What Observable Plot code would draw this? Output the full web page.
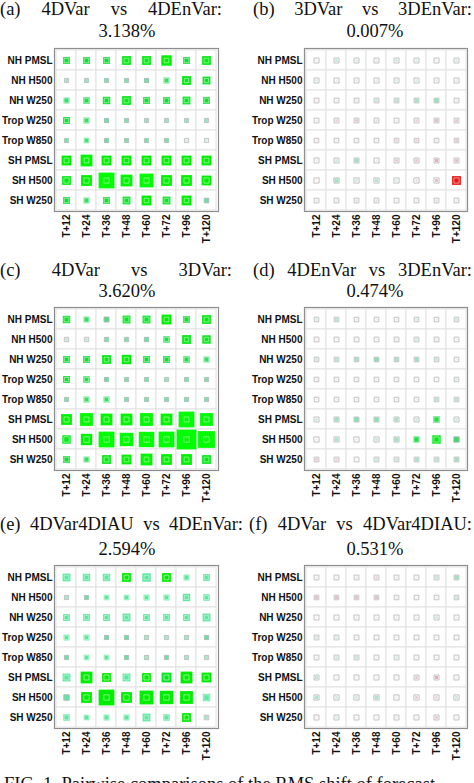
<!DOCTYPE html>
<html><head><meta charset="utf-8">
<script src="https://cdn.jsdelivr.net/npm/d3@7"></script>
<script src="https://cdn.jsdelivr.net/npm/@observablehq/plot@0.6"></script>
<style>
html,body{margin:0;padding:0;background:#fff;}
body{width:474px;height:783px;overflow:hidden;position:relative;}
.tl{position:absolute;font-family:"Liberation Serif",serif;font-size:18.5px;line-height:20px;height:20px;text-align:justify;text-align-last:justify;color:#111;}
.tc{position:absolute;font-family:"Liberation Serif",serif;font-size:18.5px;line-height:20px;text-align:center;width:120px;color:#111;}
.pn{position:absolute;}
.cap{position:absolute;left:4px;top:773px;font-family:"Liberation Serif",serif;font-size:18.5px;line-height:22px;white-space:nowrap;color:#111;}
</style>
</head><body>
<script>
const rows = ["NH PMSL","NH H500","NH W250","Trop W250","Trop W850","SH PMSL","SH H500","SH W250"];
const cols = ["T+12","T+24","T+36","T+48","T+60","T+72","T+96","T+120"];

const titles = ["(a) 4DVar vs 4DEnVar:","(b) 3DVar vs 3DEnVar:","(c) 4DVar vs 3DVar:","(d) 4DEnVar vs 3DEnVar:","(e) 4DVar4DIAU vs 4DEnVar:","(f) 4DVar vs 4DVar4DIAU:"];
const scores = ["3.138%","0.007%","3.620%","0.474%","2.594%","0.531%"];
const caption = "FIG. 1. Pairwise comparisons of the RMS shift of forecast";

// signed relative change per cell (rows x lead times)
const valuesA = [
 [2.5,2.5,2.5,3.5,3.5,4.3,2.5,3.5],
 [0.8,1.0,1.3,1.3,1.5,2.0,3.5,3.0],
 [2.0,2.3,2.8,3.5,2.5,2.5,3.0,2.5],
 [2.5,2.0,1.5,1.3,1.0,1.0,1.0,1.0],
 [1.3,1.8,1.5,1.3,1.3,1.3,0.3,0.3],
 [4.0,5.0,4.0,4.0,4.0,4.0,4.0,4.0],
 [3.5,4.5,7.0,5.0,6.0,4.5,4.5,4.0],
 [2.5,2.0,2.5,3.0,4.0,3.0,4.0,1.5]];
const valuesB = [
 [0.1,0.5,0.3,0.2,0.4,0.3,0.1,0.3],
 [0.3,0.1,0.2,0.2,0.3,0.3,0.2,0.2],
 [0.1,0.1,0.2,0.5,0.6,0.9,1.1,0.2],
 [0.1,-0.3,-0.4,-0.2,0.1,-0.3,-0.5,-0.4],
 [0.1,0.1,0.1,0.1,-0.3,-0.3,0.2,-0.4],
 [0.1,0.4,1.0,0.1,-0.4,-0.4,-0.6,-0.5],
 [0.0,1.0,0.4,0.7,0.3,-0.2,-0.5,-3.5],
 [0.2,0.2,-0.2,-0.2,0.1,0.1,-0.2,0.1]];
const valuesC = [
 [2.8,2.0,1.8,3.0,3.0,4.0,2.5,3.5],
 [0.5,0.5,1.3,1.3,1.5,2.3,3.5,3.3],
 [2.5,2.5,3.5,3.8,2.5,2.5,2.3,2.0],
 [2.5,2.3,1.5,1.3,1.3,1.0,1.3,1.3],
 [1.3,2.0,2.0,1.3,1.3,1.3,1.3,1.3],
 [4.5,5.5,5.0,5.0,5.5,5.0,7.0,5.5],
 [3.3,4.8,7.0,5.8,6.8,7.0,9.0,7.5],
 [2.5,2.0,3.5,4.0,5.0,4.5,4.5,3.5]];
const valuesD = [
 [0.3,0.6,0.1,0.1,0.1,0.3,0.1,0.4],
 [0.1,0.0,0.1,0.1,0.2,0.4,0.2,0.1],
 [0.4,0.6,0.9,1.2,0.9,1.0,0.5,0.1],
 [0.1,0.1,0.1,0.1,0.1,0.0,0.0,0.3],
 [0.0,0.1,0.1,0.1,0.1,0.1,0.6,0.6],
 [0.4,1.0,1.3,1.2,0.9,0.4,2.3,0.4],
 [0.0,0.8,0.1,0.5,1.0,2.2,3.3,2.0],
 [-0.4,-0.3,0.0,0.5,0.5,0.8,0.6,1.0]];
const valuesE = [
 [3.0,2.8,2.8,3.5,3.3,3.5,2.0,2.5],
 [1.0,1.3,1.8,1.8,2.0,2.0,2.8,2.3],
 [2.5,2.5,2.5,3.0,2.5,2.5,2.5,3.0],
 [2.0,2.0,1.5,1.5,1.3,1.0,1.3,1.5],
 [1.3,1.8,1.8,1.5,1.3,1.3,1.0,1.0],
 [3.0,5.0,3.5,3.0,3.5,4.0,5.0,4.0],
 [2.0,4.5,7.0,4.5,6.0,5.8,5.5,2.8],
 [2.3,1.8,2.0,2.0,3.0,2.3,3.5,1.0]];
const valuesF = [
 [0.1,0.1,0.2,-0.3,-0.1,0.1,0.5,1.0],
 [-0.5,-0.5,-0.5,-0.5,-0.1,0.0,0.0,0.5],
 [0.0,0.0,0.1,0.1,0.1,0.1,0.4,0.1],
 [0.4,0.3,0.1,0.1,0.0,0.1,0.0,0.1],
 [0.1,0.4,0.5,0.1,0.3,0.1,0.0,0.1],
 [0.6,0.0,0.1,0.0,0.1,-0.4,-0.6,0.1],
 [0.8,0.4,0.4,0.8,0.1,-0.4,-0.3,0.5],
 [0.1,0.3,0.0,0.0,0.2,0.1,-0.4,0.1]];
// colour tone for panel (e), which differs from its size (0.8 pale, 1.5 mint, 3 green, 4 bright)
const tonesE = [
 [1.5,1.5,1.5,4,1.5,4,1.5,1.5],
 [0.8,1.5,1.5,1.5,1.5,1.5,1.5,1.5],
 [1.5,1.5,1.5,1.5,1.5,1.5,1.5,1.5],
 [1.5,1.5,1.5,1.5,0.8,0.8,0.8,1.5],
 [1.5,1.5,1.5,1.5,0.8,1.5,0.8,0.8],
 [1.5,4,4,1.5,4,3,4,4],
 [1.5,4,4,4,4,4,4,1.5],
 [1.5,1.5,1.5,1.5,1.5,1.5,4,0.8]];
// uncertainty (inner outlined square) per row
const uncA = [1.4,1.2,1.4,1.2,1.2,1.5,1.7,1.4];
const uncB = [1.6,1.6,1.5,1.5,1.4,1.6,1.7,1.5];
const uncC = [1.5,1.3,1.4,1.2,1.2,1.6,1.8,1.5];
const uncD = [1.4,1.5,1.4,1.4,1.4,1.6,1.7,1.5];
const uncE = [1.4,1.2,1.3,1.2,1.2,1.6,1.8,1.4];
const uncF = [1.5,1.4,1.6,1.5,1.5,1.6,1.7,1.6];

const panels = [
 {values: valuesA, tones: null, unc: uncA},
 {values: valuesB, tones: null, unc: uncB},
 {values: valuesC, tones: null, unc: uncC},
 {values: valuesD, tones: null, unc: uncD},
 {values: valuesE, tones: tonesE, unc: uncE},
 {values: valuesF, tones: null, unc: uncF}];

// layout
const gridTops = [48, 307, 565];
const line1Base = [15, 276, 530];
const line2Base = [37.5, 297, 555];
const colLayout = [
 {left:0, width:237, ml:54, mr:19, cx:127},
 {left:237, width:237, ml:67, mr:7, cx:375}];
const titleBox = [
 {l:0, w:222}, {l:253, w:219},
 {l:0, w:232}, {l:253, w:219},
 {l:0, w:243}, {l:249, w:223}];

function makeCells(p) {
  const cells = [];
  rows.forEach((r, i) => cols.forEach((c, j) => {
    const v = p.values[i][j];
    cells.push({row: r, col: c, v, a: Math.abs(v),
      tone: p.tones ? p.tones[i][j] * (v < 0 ? -1 : 1) : v, u: p.unc[i]});
  }));
  return cells;
}

panels.forEach((p, k) => {
  const ci = k % 2, ri = Math.floor(k / 2);
  const L = colLayout[ci];
  const cells = makeCells(p);
  const chart = Plot.plot({
    width: L.width, height: 2 + 163 + 45,
    marginLeft: L.ml, marginRight: L.mr, marginTop: 2, marginBottom: 45,
    style: {fontFamily: "'Liberation Sans', sans-serif", fontSize: "10px", fontWeight: "bold", color: "#111", background: "transparent"},
    x: {domain: cols, padding: 0, tickRotate: -90, tickSize: 0, tickPadding: 3, label: null},
    y: {domain: rows, padding: 0, tickSize: 0, tickPadding: 2, label: null},
    r: {type: "linear", domain: [0, 10], range: [1.016, 12.3]},
    color: {type: "linear", interpolate: "rgb",
      domain: [-4, -2, -1, -0.6, -0.3, 0, 0.3, 0.6, 1, 1.5, 2, 2.5, 3, 4],
      range: ["#ee0000", "#f05060", "#ee90a4", "#eea8b8", "#f0ccd6", "#eeeeee", "#d0f0e0", "#b0eed0", "#90eabe", "#5ee6a4", "#34de68", "#14dc34", "#06e622", "#00ee00"]},
    marks: [
      Plot.cell(cells, {x: "col", y: "row", fill: "white", stroke: "#e2e2e2", strokeWidth: 1}),
      Plot.dot(cells, {x: "col", y: "row", r: "a", fill: "tone", symbol: "square", sort: null}),
      Plot.dot(cells, {x: "col", y: "row", r: "u", fill: "none", symbol: "square", strokeWidth: 1,
        stroke: d => d.a > d.u + 0.3 ? "rgba(225,255,225,0.55)" : "rgba(185,185,185,0.85)"}),
      Plot.frame({stroke: "#8e8e8e", strokeWidth: 1.2})
    ]
  });
  const wrap = document.createElement("div");
  wrap.className = "pn";
  wrap.style.left = L.left + "px";
  wrap.style.top = (gridTops[ri] - 2) + "px";
  wrap.appendChild(chart);
  document.body.appendChild(wrap);

  const tb = titleBox[k];
  const t1 = document.createElement("div");
  t1.className = "tl";
  t1.style.left = tb.l + "px";
  t1.style.width = tb.w + "px";
  t1.style.top = (line1Base[ri] - 16.2) + "px";
  t1.textContent = titles[k];
  document.body.appendChild(t1);
  const t2 = document.createElement("div");
  t2.className = "tc";
  t2.style.left = (L.cx - 60) + "px";
  t2.style.top = (line2Base[ri] - 16.2) + "px";
  t2.textContent = scores[k];
  document.body.appendChild(t2);
});

const cap = document.createElement("div");
cap.className = "cap";
cap.textContent = caption;
document.body.appendChild(cap);
</script>
</body></html>
